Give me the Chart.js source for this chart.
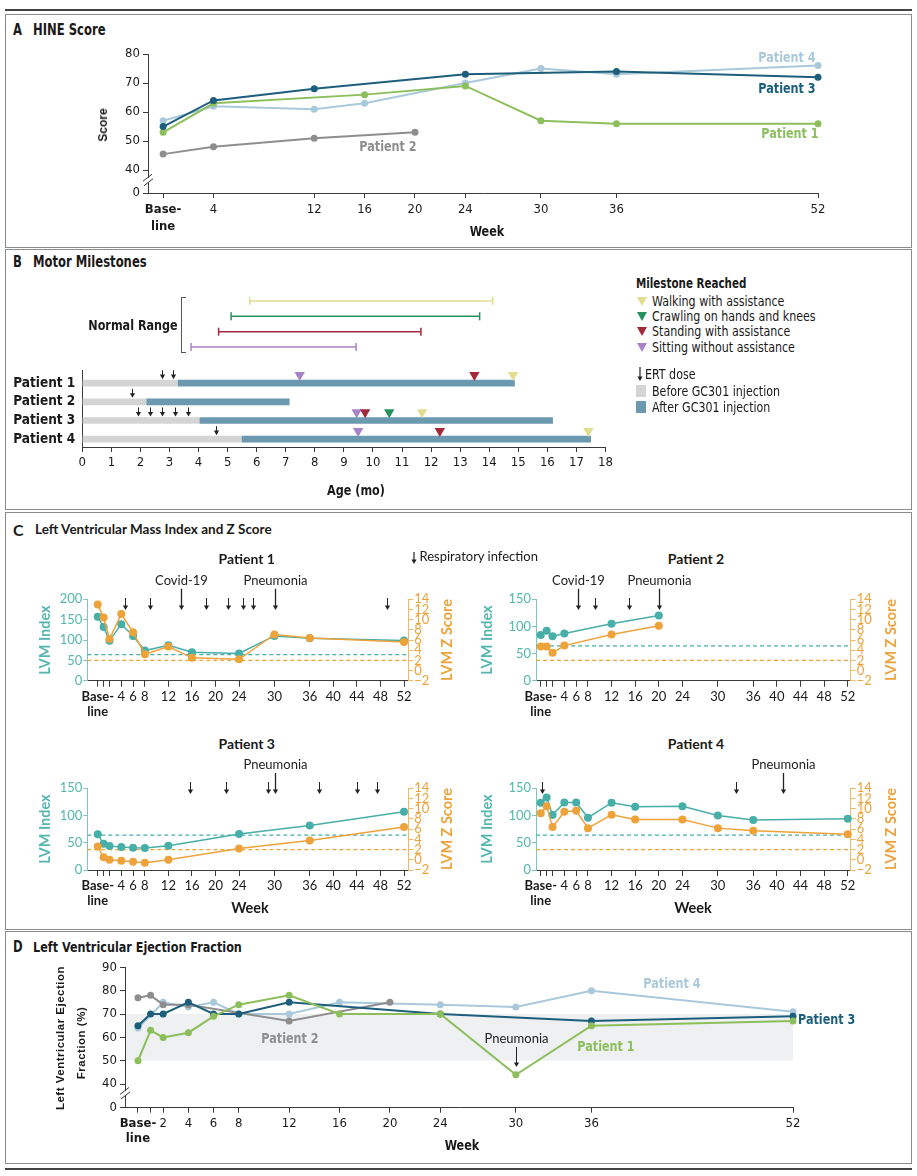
<!DOCTYPE html>
<html><head><meta charset="utf-8"><title>GC301 figure</title>
<script src="https://cdn.jsdelivr.net/npm/chart.js@4.4.1/dist/chart.umd.min.js"></script>
<style>
html,body{margin:0;padding:0;background:#fff;}
#page{position:relative;width:917px;height:1176px;overflow:hidden;background:#fff;}
canvas{position:absolute;}
.t{position:absolute;white-space:nowrap;line-height:1;}
</style></head><body><div id="page"></div>
<script>
// ================= DATA =================
// Panel A: HINE score
const hineTickWeeks=[0,4,12,16,20,24,30,36,52];
const hineYTickVals=[32.1,40,50,60,70,80];
const hineYTickLabels=['0','40','50','60','70','80'];
const hineP1Weeks=[0,4,16,24,30,36,52];
const hineP1=[53,63,66,69,57,56,56];
const hineP2Weeks=[0,4,12,20];
const hineP2=[45.5,48,51,53];
const hineP3Weeks=[0,4,12,24,36,52];
const hineP3=[55,64,68,73,74,72];
const hineP4Weeks=[0,4,12,16,24,30,36,52];
const hineP4=[57,62,61,63,70,75,73,76];

// Panel B: motor milestones (age in months)
const ageTicks=[0,1,2,3,4,5,6,7,8,9,10,11,12,13,14,15,16,17,18];
const patientNames=['Patient 1','Patient 2','Patient 3','Patient 4'];
const injectionAge=[3.3,2.22,4.05,5.5];
const lastAge=[14.87,7.12,16.18,17.49];
const milestoneNames=['Walking with assistance','Crawling on hands and knees','Standing with assistance','Sitting without assistance'];
const milestoneColors=['#E3DE8F','#23905E','#A3283B','#A683C9'];
const normalStart=[5.76,5.12,4.69,3.74];
const normalEnd=[14.12,13.67,11.65,9.42];
const walkingAge=[14.82,null,11.69,17.41];
const crawlingAge=[null,null,10.56,null];
const standingAge=[13.49,null,9.73,12.3];
const sittingAge=[7.48,null,9.44,9.49];
const ertDoseAge=[[2.73,3.13],[1.72],[1.92,2.33,2.75,3.19,3.64],[4.61]];

// Panel C: LVM index and Z score
const lvmTickWeeks=[0,1,2,4,6,8,12,16,20,24,30,36,40,44,48,52];
const lvmTicks200=[0,50,100,150,200];
const lvmTicks150=[0,50,100,150];
const zTicks=[-2,0,2,4,6,8,10,12,14];
const lvmNormal=64;
const zNormal=2;
const c1Weeks=[0,1,2,4,6,8,12,16,24,30,36,52];
const c1Lvm=[157,132,98,139,110,74,87,70,67,110,104,99];
const c1Z=[13.0,10.4,6.2,11.1,7.5,3.2,4.7,2.5,2.2,7.1,6.4,5.6];
const c1InfWeeks=[4.7,8.8,14.1,18.4,22.1,24.7,26.3,30.1,49.1];
const c1InfLabels=['','','Covid-19','','','','','Pneumonia',''];
const c2Weeks=[0,1,2,4,12,20];
const c2Lvm=[84,92,82,87,105,120];
const c2Z=[4.7,4.7,3.5,4.9,7.1,8.8];
const c2InfWeeks=[6.3,9.2,14.9,20];
const c2InfLabels=['Covid-19','','','Pneumonia'];
const c3Weeks=[0,1,2,4,6,8,12,24,36,52];
const c3Lvm=[65.5,48,44,42,41,40.5,44.5,66,81.5,107];
const c3Z=[2.6,0.5,0,-0.2,-0.4,-0.6,0,2.2,3.8,6.4];
const c3InfWeeks=[15.6,21.8,28.9,30.05,37.6,44.0,47.4];
const c3InfLabels=['','','','Pneumonia','','',''];
const c4Weeks=[0,1,2,4,6,8,12,16,24,30,36,52];
const c4Lvm=[123.5,133,101,124,124,96,123.5,116,117,100,92,94];
const c4Z=[9.1,10.5,6.4,9.4,9.6,6.2,8.8,7.9,7.9,6.2,5.7,5.0];
const c4InfWeeks=[0.2,33.1,41];
const c4InfLabels=['','','Pneumonia'];

// Panel D: LVEF
const lvefTickWeeks=[0,1,2,4,6,8,12,16,20,24,30,36,52];
const lvefYTickVals=[29.9,40,50,60,70,80,90];
const lvefYTickLabels=['0','40','50','60','70','80','90'];
const lvefNormal=[50,70];
const lvefP1Weeks=[0,1,2,4,6,8,12,16,24,30,36,52];
const lvefP1=[50,63,60,62,69,74,78,70,70,44,65,67];
const lvefP2Weeks=[0,1,2,4,12,20];
const lvefP2=[77,78,74,74,67,75];
const lvefP3Weeks=[0,1,2,4,6,8,12,24,36,52];
const lvefP3=[65,70,70,75,70,70,75,70,67,69];
const lvefP4Weeks=[0,2,4,6,8,12,16,24,30,36,52];
const lvefP4=[64,75,73,75,70,70,75,74,73,80,71];
const lvefEventWeeks=[30];
const lvefEventLabels=['Pneumonia'];

// ================= STYLE / HELPERS =================
const NARROW='"Liberation Sans Narrow","DejaVu Sans Condensed","Arial Narrow",sans-serif';
const HUM='Lato,"Open Sans","Noto Sans",sans-serif';
const REG='"Liberation Sans",Arial,sans-serif';
const COL={p1:'#8CBF5B',p2:'#8E8E8E',p3:'#1C5E7B',p4:'#A9C9DB',teal:'#47AEA8',tealTxt:'#55B5AF',tealAxis:'#7CC6C1',
  orange:'#EEA23A',orangeAxis:'#F1B869',ink:'#1a1a1a',axis:'#3a3a3a',before:'#D4D4D4',after:'#6B99AF'};

Chart.defaults.font.family=NARROW;
Chart.defaults.color=COL.ink;
Chart.defaults.animation=false;
Chart.defaults.plugins.legend.display=false;
Chart.defaults.plugins.tooltip.enabled=false;

const page=document.getElementById('page');
function mk(x,y,w,h){const c=document.createElement('canvas');c.width=w;c.height=h;c.style.left=x+'px';c.style.top=y+'px';c.style.width=w+'px';c.style.height=h+'px';page.appendChild(c);return c;}
function T(s,x,y,o){o=o||{};const d=document.createElement('div');d.className='t';d.textContent=s;d.style.left=x+'px';d.style.top=y+'px';
  d.style.fontFamily=o.f||NARROW;d.style.fontSize=(o.s||13)+'px';d.style.fontWeight=o.w||'normal';d.style.color=o.c||COL.ink;
  if(o.ls)d.style.letterSpacing=o.ls+'px';const ax=o.a==='l'?'0':(o.a==='r'?'-100%':'-50%');
  if(o.a==='l')d.style.transformOrigin='0 50%';
  d.style.transform='translate('+ax+',-50%)'+(o.r?' rotate('+o.r+'deg)':'')+(o.sx?' scaleX('+o.sx+')':'');page.appendChild(d);return d;}
function box(x,y,w,h,css){const d=document.createElement('div');d.style.position='absolute';d.style.left=x+'px';d.style.top=y+'px';d.style.width=w+'px';d.style.height=h+'px';d.style.boxSizing='border-box';Object.assign(d.style,css||{});page.appendChild(d);return d;}
function svgArrow(x,y0,y1){const d=document.createElement('div');d.style.position='absolute';d.style.left=(x-4)+'px';d.style.top=y0+'px';
  const h=y1-y0;d.innerHTML='<svg width="8" height="'+h+'"><line x1="4" y1="0" x2="4" y2="'+(h-3)+'" stroke="#222" stroke-width="1.2"/><polygon points="1.4,'+(h-4.5)+' 6.6,'+(h-4.5)+' 4,'+h+'" fill="#222"/></svg>';page.appendChild(d);}

function drawArrow(ctx,x,y0,y1,lw){ctx.beginPath();ctx.lineWidth=lw||1;ctx.moveTo(x,y0);ctx.lineTo(x,y1-3);ctx.stroke();
  ctx.beginPath();ctx.moveTo(x-2.6,y1-4.6);ctx.lineTo(x+2.6,y1-4.6);ctx.lineTo(x,y1);ctx.closePath();ctx.fill();}
const arrowPlugin={id:'evArrows',afterDatasetsDraw(chart,args,opts){
  const items=opts&&opts.items;if(!items||!items.length)return;
  const ctx=chart.ctx,xs=chart.scales.x,ys=chart.scales.y;
  ctx.save();ctx.strokeStyle='#222';ctx.fillStyle='#222';
  items.forEach(it=>{const x=Math.round(xs.getPixelForValue(it.x))+0.5;
    const base=(it.ref==null)?chart.chartArea.top:ys.getPixelForValue(it.ref);
    drawArrow(ctx,x,base+it.y0,base+it.y1,it.lw||1);
    if(it.label){ctx.font=opts.font||('13px '+HUM);ctx.textAlign='center';ctx.textBaseline='middle';ctx.fillText(it.label,x,base+it.y0-(opts.lblOff||8));}
  });ctx.restore();}};
const breakPlugin={id:'axisBreak',afterDraw(chart,args,opts){
  if(!opts||opts.value==null)return;const ctx=chart.ctx;const x=chart.chartArea.left;const y=chart.scales.y.getPixelForValue(opts.value);
  ctx.save();ctx.fillStyle='#fff';ctx.fillRect(x-3,y-2.5,6,5);ctx.strokeStyle='#333';ctx.lineWidth=1;ctx.beginPath();
  ctx.moveTo(x-5,y+1);ctx.lineTo(x+4,y-6);ctx.moveTo(x-4,y+5.5);ctx.lineTo(x+5,y-1.5);ctx.stroke();ctx.restore();}};
const bandPlugin={id:'band',beforeDatasetsDraw(chart,args,opts){
  if(!opts||opts.from==null)return;const ctx=chart.ctx,xs=chart.scales.x,ys=chart.scales.y;
  const y0=ys.getPixelForValue(opts.to),y1=ys.getPixelForValue(opts.from);const x0=chart.chartArea.left+1,x1=xs.getPixelForValue(opts.xEnd);
  ctx.save();ctx.fillStyle=opts.color;ctx.fillRect(x0,y0,x1-x0,y1-y0);ctx.restore();}};
Chart.register(arrowPlugin,breakPlugin,bandPlugin);

function linAxis(o){
  return {type:'linear',position:o.pos,min:o.min,max:o.max,reverse:!!o.rev,offset:false,
    afterBuildTicks:s=>{s.ticks=o.ticks.map(v=>({value:v}));},
    afterFit:s=>{if(o.pos==='left'||o.pos==='right')s.width=o.size;else s.height=o.size;},
    ticks:{autoSkip:false,maxRotation:0,minRotation:0,padding:o.pad==null?3:o.pad,color:o.color||COL.ink,
      font:c=>({family:o.family||NARROW,size:o.fs||13,weight:(o.bold0&&c.tick&&c.tick.value===0)?'bold':(o.weight||'normal'),lineHeight:o.lh||1.2}),
      callback:o.label},
    grid:{display:true,offset:false,drawOnChartArea:false,drawTicks:(o.tickLen||0)>0,tickLength:o.tickLen||0,color:o.lineColor||COL.axis,lineWidth:1},
    border:{display:true,color:o.lineColor||COL.axis,width:1}};
}
function lineDs(label,weeks,vals,color,o){
  return Object.assign({type:'line',label,data:weeks.map((w,i)=>({x:w,y:vals[i]})),borderColor:color,backgroundColor:color,
    pointBackgroundColor:color,pointBorderColor:color,borderWidth:2,pointRadius:3.5,pointBorderWidth:0,tension:0,clip:false},o||{});
}
const SX=0.86;

// ================= FRAMES & HEADERS =================
box(5,9,907,2,{background:'#444'});
box(5,14,907,234,{border:'1px solid #8c8c8c'});
box(5,249,907,261,{border:'1px solid #8c8c8c'});
box(5,512,907,418,{border:'1px solid #8c8c8c'});
box(5,931,907,233,{border:'1px solid #8c8c8c'});
box(5,1168,907,2,{background:'#444'});

T('A',13,29.5,{w:'bold',s:15,a:'l',sx:SX});T('HINE Score',33,29.5,{w:'bold',s:15,a:'l',sx:SX});
T('B',13,261.7,{w:'bold',s:15,a:'l',sx:SX});T('Motor Milestones',33,261.7,{w:'bold',s:15,a:'l',sx:SX});
T('C',13,529.5,{w:'bold',s:16,f:HUM,a:'l'});T('Left Ventricular Mass Index and Z Score',35,529.5,{w:'bold',s:13.5,f:HUM,a:'l'});
T('D',13,946.7,{w:'bold',s:15,a:'l',sx:SX});T('Left Ventricular Ejection Fraction',33,946.7,{w:'bold',s:14.5,a:'l',sx:SX});

// ================= PANEL A =================
new Chart(mk(100,40,740,200),{type:'line',data:{datasets:[
  lineDs('Patient 1',hineP1Weeks,hineP1,COL.p1,{order:2}),
  lineDs('Patient 3',hineP3Weeks,hineP3,COL.p3,{order:1}),
  lineDs('Patient 2',hineP2Weeks,hineP2,COL.p2,{order:3}),
  lineDs('Patient 4',hineP4Weeks,hineP4,COL.p4,{order:4})]},
 options:{responsive:false,events:[],layout:{padding:{top:14,right:22,left:0,bottom:0}},
  plugins:{axisBreak:{value:36.5}},
  scales:{x:linAxis({pos:'bottom',min:-1.2,max:52,ticks:hineTickWeeks,size:47,tickLen:5,pad:3,bold0:true,lh:1.3,label:v=>v===0?['Base-','line']:String(v)}),
          y:linAxis({pos:'left',min:32.1,max:80,ticks:hineYTickVals,size:48,tickLen:5,pad:3,label:(v,i)=>hineYTickLabels[i]})}}});
T('Score',103,125,{w:'bold',s:12,f:REG,r:-90});
T('Week',487,231,{w:'bold',s:14.5,sx:SX});
T('Patient 4',787,57,{w:'bold',s:14.5,c:COL.p4,sx:SX});
T('Patient 3',787,88,{w:'bold',s:14.5,c:COL.p3,sx:SX});
T('Patient 1',790,133,{w:'bold',s:14.5,c:COL.p1,sx:SX});
T('Patient 2',388,146,{w:'bold',s:14.5,c:COL.p2,sx:SX});

// ================= PANEL B =================
new Chart(mk(70,285,560,80),{type:'line',data:{datasets:milestoneNames.map((n,i)=>({label:n,
   data:[{x:normalStart[i],y:i+1},{x:normalEnd[i],y:i+1}],borderColor:milestoneColors[i],borderWidth:1.5,
   pointStyle:'line',pointRotation:90,pointRadius:4,pointBorderWidth:1.5,pointBorderColor:milestoneColors[i],clip:false}))},
 options:{responsive:false,events:[],layout:{padding:{left:12.3,right:24.5,top:8.3,bottom:10.3}},
  scales:{x:{type:'linear',display:false,min:0,max:18},y:{type:'linear',display:false,min:0.5,max:4.5,reverse:true}}}});

const msAges=[walkingAge,crawlingAge,standingAge,sittingAge];
const yB=linAxis({pos:'left',min:0.3,max:4.42,ticks:[1,2,3,4],size:82.3,tickLen:0,pad:7,weight:'bold',fs:13.5,label:(v,i)=>patientNames[i]});
yB.reverse=true;
new Chart(mk(0,355,640,150),{type:'scatter',data:{datasets:[
  ...msAges.map((arr,k)=>({type:'scatter',label:milestoneNames[k],
     data:arr.map((a,i)=>a==null?null:{x:a,y:i+1-0.44}).filter(Boolean),
     pointStyle:'triangle',pointRotation:180,pointRadius:6,pointBackgroundColor:milestoneColors[k],pointBorderWidth:0,
     backgroundColor:milestoneColors[k],borderColor:milestoneColors[k],clip:false,order:1})),
  {type:'bar',label:'Before GC301 injection',indexAxis:'y',grouped:false,barThickness:6,
     data:injectionAge.map((a,i)=>({x:[0,a],y:i+1})),backgroundColor:COL.before,order:3},
  {type:'bar',label:'After GC301 injection',indexAxis:'y',grouped:false,barThickness:6,
     data:injectionAge.map((a,i)=>({x:[a,lastAge[i]],y:i+1})),backgroundColor:COL.after,order:2}]},
 options:{responsive:false,events:[],layout:{padding:{top:15,right:34.5,left:0,bottom:0}},
  plugins:{evArrows:{items:ertDoseAge.flatMap((arr,i)=>arr.map(a=>({x:a,ref:i+1,y0:-13,y1:-4})))}},
  scales:{x:linAxis({pos:'bottom',min:0,max:18,ticks:ageTicks,size:58,tickLen:5,pad:3,label:v=>String(v)}),y:yB}}});

T('Normal Range',132.5,325,{w:'bold',s:14.5,sx:SX});
box(181,297,5,56,{border:'1px solid #555',borderRight:'none'});
T('Age (mo)',356,490,{w:'bold',s:14.5,sx:SX});
T('Milestone Reached',636,283,{w:'bold',s:14,a:'l',sx:0.82});
[301,316,331,347].forEach((y,i)=>{
  box(637,y-4.5,10,9,{width:'0',height:'0',borderLeft:'5px solid transparent',borderRight:'5px solid transparent',borderTop:'9px solid '+milestoneColors[i]});
  T(milestoneNames[i],652,y,{s:14,a:'l',sx:0.88});
});
svgArrow(640,367,381);
T('ERT dose',645,374,{s:14,a:'l',sx:0.88});
box(636,385,10,12,{background:COL.before});T('Before GC301 injection',652,391,{s:14,a:'l',sx:0.88});
box(636,401,10,12,{background:COL.after});T('After GC301 injection',652,407,{s:14,a:'l',sx:0.88});

// ================= PANEL C =================
function lvmChart(r,a,xmin,xmax,yTicks,weeks,lvm,z,infW,infL,g){
  new Chart(mk(r.x,r.y,r.w,r.h),{type:'line',data:{datasets:[
    lineDs('LVM Z score',weeks,z,COL.orange,{yAxisID:'y2',order:1,borderWidth:1.5,pointRadius:4}),
    lineDs('LVM index',weeks,lvm,COL.teal,{yAxisID:'y',order:2,borderWidth:1.5,pointRadius:4}),
    {type:'line',label:'LVM normal',data:[{x:xmin,y:lvmNormal},{x:xmax,y:lvmNormal}],yAxisID:'y',borderColor:COL.teal,borderWidth:1.3,borderDash:[4,3],pointRadius:0,order:3},
    {type:'line',label:'Z normal',data:[{x:xmin,y:zNormal},{x:xmax,y:zNormal}],yAxisID:'y2',borderColor:COL.orange,borderWidth:1.3,borderDash:[4,3],pointRadius:0,order:4}]},
   options:{responsive:false,events:[],layout:{padding:{top:a.t-r.y,left:0,right:0,bottom:0}},
    plugins:{evArrows:{font:'13px '+HUM,lblOff:g.lbl,items:infW.map((w,i)=>({x:w,y0:infL[i]?g.long:g.short,y1:g.end,label:infL[i],lw:infL[i]?1.3:1}))}},
    scales:{
      x:linAxis({pos:'bottom',min:xmin,max:xmax,ticks:lvmTickWeeks,size:r.y+r.h-a.b,tickLen:6,pad:2,family:HUM,fs:13,bold0:true,lh:1.18,
        label:v=>v===0?['Base-','line']:((v===1||v===2)?'':String(v))}),
      y:linAxis({pos:'left',min:0,max:yTicks[yTicks.length-1],ticks:yTicks,size:a.l-r.x,tickLen:4,pad:1,family:HUM,fs:13,color:COL.tealTxt,lineColor:COL.tealAxis,label:v=>String(v)}),
      y2:linAxis({pos:'right',min:-2,max:14,ticks:zTicks,size:r.x+r.w-a.r,tickLen:5,pad:1,family:HUM,fs:13,color:COL.orange,lineColor:COL.orangeAxis,label:v=>v<0?'\u2212'+(-v):String(v)})}}});
}
const geoTop={short:-1.3,long:-10.6,end:10.7,lbl:7.7};
const geoBot={short:-6.3,long:-15.3,end:5.7,lbl:8};
lvmChart({x:0,y:570,w:460,h:150},{l:87.3,t:599.3,r:408.3,b:680.7},-1.77,52.73,lvmTicks200,c1Weeks,c1Lvm,c1Z,c1InfWeeks,c1InfLabels,geoTop);
lvmChart({x:460,y:570,w:457,h:150},{l:536,t:599.3,r:850.7,b:680.7},-0.8,52.5,lvmTicks150,c2Weeks,c2Lvm,c2Z,c2InfWeeks,c2InfLabels,geoTop);
lvmChart({x:0,y:755,w:460,h:150},{l:87.3,t:788.3,r:408.3,b:870},-1.77,52.73,lvmTicks150,c3Weeks,c3Lvm,c3Z,c3InfWeeks,c3InfLabels,geoBot);
lvmChart({x:460,y:755,w:457,h:150},{l:536,t:788.3,r:850.7,b:870},-0.8,52.5,lvmTicks150,c4Weeks,c4Lvm,c4Z,c4InfWeeks,c4InfLabels,geoBot);

svgArrow(414,550,562);
T('Respiratory infection',419.5,556,{s:13,f:HUM,a:'l'});
[[246.7,559,'Patient 1'],[696,559,'Patient 2'],[246.7,744,'Patient 3'],[696,744,'Patient 4']].forEach(p=>T(p[2],p[0],p[1],{w:'bold',s:14,f:HUM}));
[[45,640,447.3,640],[487.3,640,890.7,640],[45,829,447.3,829],[487.3,829,890.7,829]].forEach(p=>{
  T('LVM Index',p[0],p[1],{w:'bold',s:14.5,f:HUM,c:COL.tealTxt,r:-90});
  T('LVM Z Score',p[2],p[3],{w:'bold',s:14.5,f:HUM,c:COL.orange,r:-90});
});
T('Week',250,908,{w:'bold',s:14.5,f:HUM});
T('Week',693,908,{w:'bold',s:14.5,f:HUM});

// ================= PANEL D =================
new Chart(mk(100,955,740,200),{type:'line',data:{datasets:[
  lineDs('Patient 1',lvefP1Weeks,lvefP1,COL.p1,{order:1}),
  lineDs('Patient 3',lvefP3Weeks,lvefP3,COL.p3,{order:2}),
  lineDs('Patient 2',lvefP2Weeks,lvefP2,COL.p2,{order:3}),
  lineDs('Patient 4',lvefP4Weeks,lvefP4,COL.p4,{order:4})]},
 options:{responsive:false,events:[],layout:{padding:{top:12.3,right:47,left:0,bottom:0}},
  plugins:{axisBreak:{value:36},band:{from:lvefNormal[0],to:lvefNormal[1],xEnd:52,color:'#EEF0F2'},
    evArrows:{font:'13px '+HUM,lblOff:8,items:lvefEventWeeks.map((w,i)=>({x:w,ref:lvefP1[lvefP1Weeks.indexOf(w)],y0:-27.7,y1:-7.7,label:lvefEventLabels[i]}))}},
  scales:{x:linAxis({pos:'bottom',min:-1.03,max:52,ticks:lvefTickWeeks,size:47.3,tickLen:5,pad:3,bold0:true,lh:1.18,label:v=>v===0?['Base-','line']:(v===1?'':String(v))}),
          y:linAxis({pos:'left',min:29.9,max:90,ticks:lvefYTickVals,size:25,tickLen:5,pad:3,label:(v,i)=>lvefYTickLabels[i]})}}});
T('Left Ventricular Ejection',61,1038,{w:'bold',s:11.5,f:REG,ls:0.5,r:-90});
T('Fraction (%)',82,1043,{w:'bold',s:11.5,f:REG,ls:0.5,r:-90});
T('Week',462,1145,{w:'bold',s:14.5,sx:SX});
T('Patient 4',672,983,{w:'bold',s:14.5,c:COL.p4,sx:SX});
T('Patient 3',798,1019,{w:'bold',s:14.5,c:COL.p3,a:'l',sx:SX});
T('Patient 1',606,1046,{w:'bold',s:14.5,c:COL.p1,sx:SX});
T('Patient 2',290,1038,{w:'bold',s:14.5,c:COL.p2,sx:SX});
</script></body></html>
